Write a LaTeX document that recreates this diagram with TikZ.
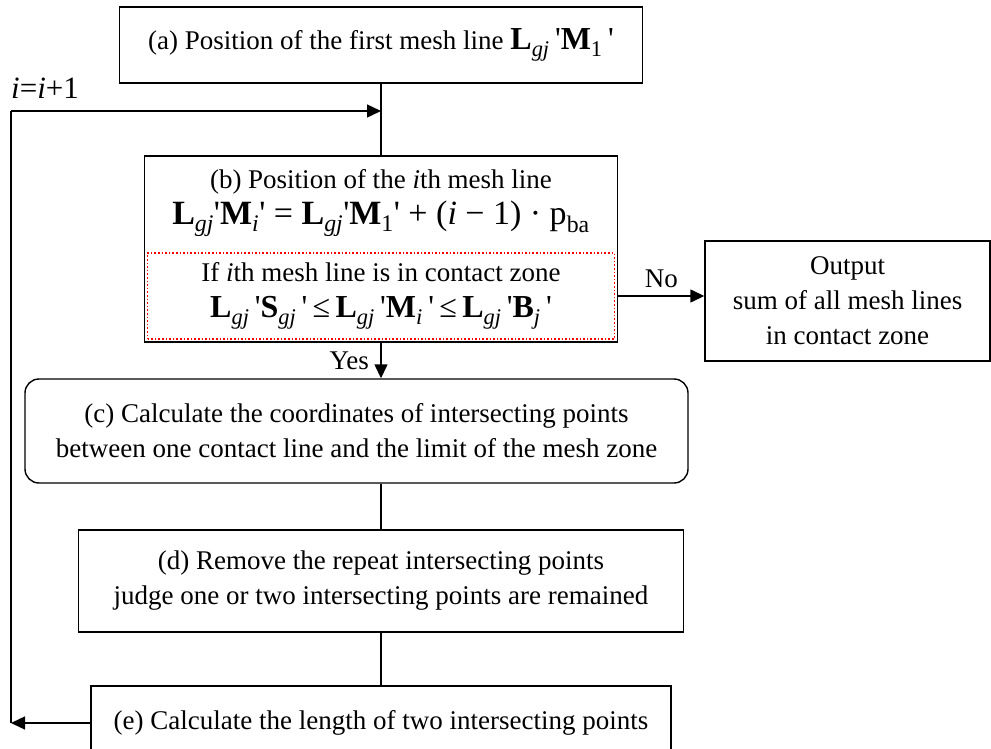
\documentclass[tikz,border=0pt]{standalone}
\usepackage{fontspec}
\setmainfont{Liberation Serif}
\usetikzlibrary{arrows.meta}
\newcommand{\qt}{\textquotesingle}
\newcommand{\Lgj}{\textbf{L}\textsubscript{\textit{gj}}}
\newcommand{\bigf}{\fontsize{34}{36}\selectfont}

\begin{document}
\begin{tikzpicture}[x=1pt,y=-1pt,>={Triangle[length=14pt,width=13pt]},line width=1.4pt,
  every node/.style={font=\fontsize{27}{35}\selectfont},
  box/.style={draw,align=center,inner sep=0pt},
  condbox/.style={draw=red,dotted,align=center,inner sep=0pt,line width=1.6pt}]
\clip (0,0) rectangle (991,749);
\node[box,minimum width=523pt,minimum height=76pt] (a) at (381,45) {(a) Position of the first mesh line {\fontsize{32}{32}\selectfont\Lgj\,\qt\textbf{M}\textsubscript{1}\,\qt}};
\node[box,minimum width=473pt,minimum height=186pt] (b) at (381,249) {};
\node[align=center,inner sep=0pt] (bpos) at (381,203) {(b) Position of the \textit{i}th mesh line\\[1pt]
  {\bigf\Lgj\qt\textbf{M}\textsubscript{\textit{i}}\qt\ = \Lgj\qt\textbf{M}\textsubscript{1}\qt\ + (\textit{i} − 1) · p\textsubscript{ba}}};
\node[condbox,minimum width=467pt,minimum height=86pt] (bcond) at (381,296) {If \textit{i}th mesh line is in contact zone\\[1pt]
  {\fontsize{32}{34}\selectfont\Lgj\,\qt\textbf{S}\textsubscript{\textit{gj}}\,\qt\,≤\,\Lgj\,\qt\textbf{M}\textsubscript{\textit{i}}\,\qt\,≤\,\Lgj\,\qt\textbf{B}\textsubscript{\textit{j}}\,\qt}};
\node[box,minimum width=285pt,minimum height=120pt] (out) at (847.5,301) {Output\\sum of all mesh lines\\in contact zone};
\node[box,rounded corners=14pt,minimum width=663pt,minimum height=104pt] (c) at (356.5,431) {(c) Calculate the coordinates of intersecting points\\between one contact line and the limit of the mesh zone};
\node[box,minimum width=605pt,minimum height=102pt] (d) at (381,581) {(d) Remove the repeat intersecting points\\judge one or two intersecting points are remained};
\node[box,minimum width=580pt,minimum height=74pt] (e) at (381,723) {(e) Calculate the length of two intersecting points};
\coordinate (ltop) at (11,111);
\node[font=\fontsize{31}{31}\selectfont] (inc) at (45,88) {\textit{i}=\textit{i}+1};
\draw (a.south) -- (b.north);
\draw[->] (ltop) -- (ltop -| a.south);
\draw[->] (bcond.east -| b.east) -- (bcond.east -| out.west) node[midway,above=4pt]{No};
\draw[->] (b.south) -- (b.south |- c.north) node[midway,left=8pt]{Yes};
\draw (d.north |- c.south) -- (d.north);
\draw (d.south) -- (e.north);
\draw[->] (e.west) -- (e.west -| ltop);
\draw (e.west -| ltop) -- (ltop);
\end{tikzpicture}
\end{document}
